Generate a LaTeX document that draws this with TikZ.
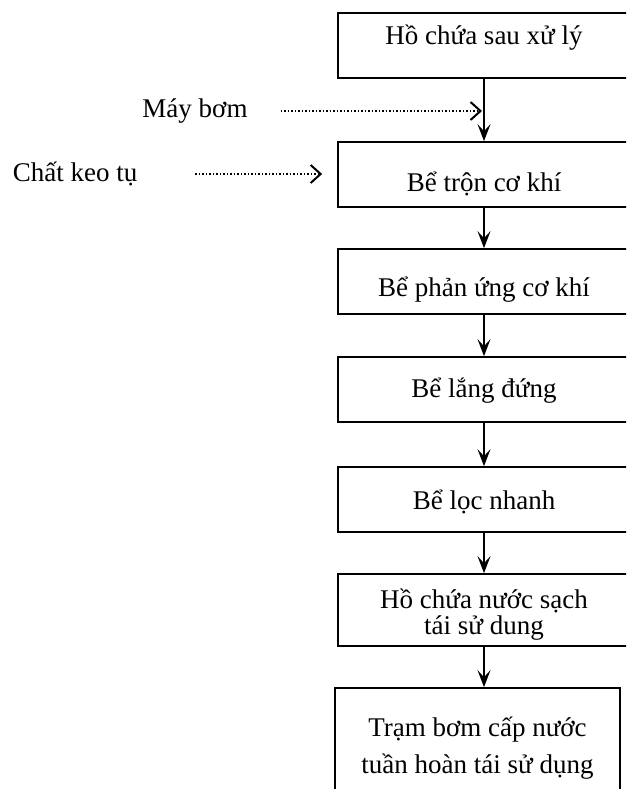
\documentclass[tikz,border=0pt]{standalone}
\usepackage{fontspec}
\setmainfont{Liberation Serif}
\usetikzlibrary{arrows.meta}

\begin{document}
\begin{tikzpicture}[x=1pt, y=-1pt,
    stage/.style={draw, line width=1.7pt, minimum width=292pt, inner sep=0pt,
        anchor=base, align=center, font=\fontsize{27}{26}\selectfont},
    inlet/.style={inner sep=0pt, font=\fontsize{27}{26}\selectfont},
    flow/.style={-{Stealth[length=17pt, width=13pt, inset=7pt]}, line width=1.4pt},
    feed/.style={-{Straight Barb[length=10pt, width=18pt, line width=2pt]},
        line width=1.8pt, dash pattern=on 1.5pt off 2pt}]
    \useasboundingbox (0,0) rectangle (626,789);
    \clip (0,0) rectangle (626,789);

    \node[stage, text height=31.5pt, text depth=33.5pt] (b1) at (484,44.5) {Hồ chứa sau xử lý};
    \node[stage, text height=49pt, text depth=16pt] (b2) at (484,191) {Bể trộn cơ khí};
    \node[stage, text height=47pt, text depth=18pt] (b3) at (484,296) {Bể phản ứng cơ khí};
    \node[stage, text height=40pt, text depth=25pt] (b4) at (484,397) {Bể lắng đứng};
    \node[stage, text height=42pt, text depth=23pt] (b5) at (484,509) {Bể lọc nhanh};
    \node[stage, text height=60pt, text depth=12pt] (b6) at (484,634) {Hồ chứa nước sạch\\tái sử dung};
    \node[stage, text height=85pt, text depth=35pt, minimum width=285pt,
        font=\fontsize{27}{37}\selectfont] (b7) at (477.5,773) {Trạm bơm cấp nước\\tuần hoàn tái sử dụng};

    \node[inlet] (pump) at (195,111) {Máy bơm};
    \node[inlet] (coag) at (75,174) {Chất keo tụ};

    \begin{scope}[flow]
        \draw (b1) -- (b2);
        \draw (b2) -- (b3);
        \draw (b3) -- (b4);
        \draw (b4) -- (b5);
        \draw (b5) -- (b6);
        \draw (b6.south) -- (b6.south |- b7.north);
    \end{scope}
    \draw[feed, shorten <=33pt, shorten >=2pt] (pump.east) -- (pump.east -| b1.south);
    \draw[feed, shorten <=58pt, shorten >=15pt] (coag.east) -- (coag.east -| b2.west);
\end{tikzpicture}
\end{document}
